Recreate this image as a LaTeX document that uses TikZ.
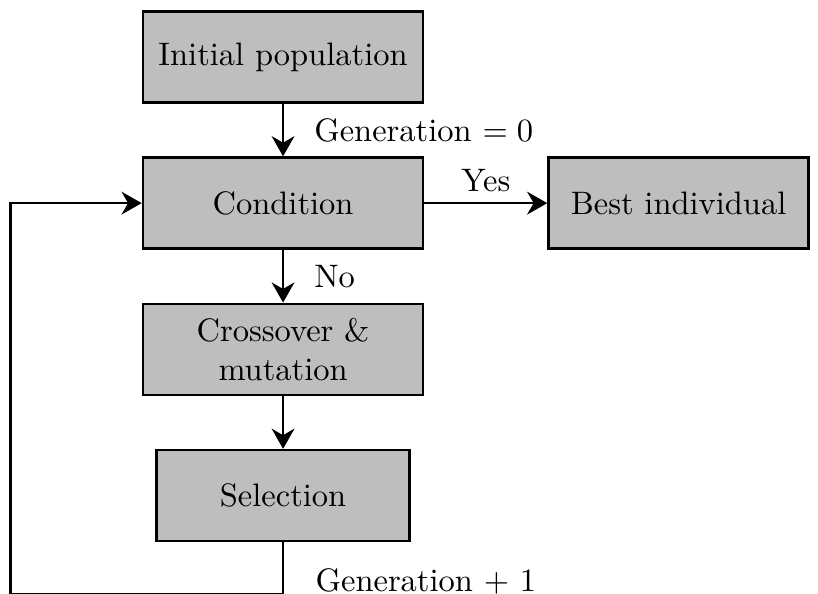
\documentclass[tikz,border=0pt]{standalone}
\usepackage{amsmath,amssymb}
\usepackage{xcolor}
\usepackage{tikz}
\usetikzlibrary{arrows.meta,positioning}
\definecolor{ink}{HTML}{000000}
\definecolor{boxgray}{HTML}{BEBEBF}
\tikzset{block/.style={draw=ink,thick,fill=boxgray,align=center,
  minimum width=86.2pt,minimum height=28pt,inner sep=2pt},
  lbl/.style={inner sep=0pt,font=\normalsize},
  arrow/.style={-{Stealth[length=6.2pt,width=7pt]},thick,draw=ink}}

\begin{document}
\begin{tikzpicture}[node distance=16.2pt]
\useasboundingbox (-87.1pt,17.5pt) rectangle (164.6pt,-165.2pt);
\node[block] (init) {Initial population};
\node[block,below=of init] (condition) {Condition};
\node[block,minimum width=80pt,right=37.8pt of condition] (best) {Best individual};
\node[block,below=of condition] (cross) {Crossover \&\\mutation};
\node[block,minimum width=77.9pt,below=of cross] (selection) {Selection};
\coordinate[below=16pt of selection.south] (loopA);
\coordinate[left=40.3pt of condition.west] (loopB);
\draw[arrow] (init) -- node[lbl,right=9.2pt] {Generation $=0$} (condition);
\draw[arrow] (condition) -- node[lbl,above=3pt] {Yes} (best);
\draw[arrow] (condition) -- node[lbl,right=9.2pt] {No} (cross);
\draw[arrow] (cross) -- (selection);
\draw[arrow] (selection.south) -- (loopA) -| (loopB) -- (condition.west);
\node[lbl,anchor=west] (gen) at ([xshift=9.8pt,yshift=3.9pt]loopA) {Generation $+$ $1$};
\end{tikzpicture}
\end{document}
